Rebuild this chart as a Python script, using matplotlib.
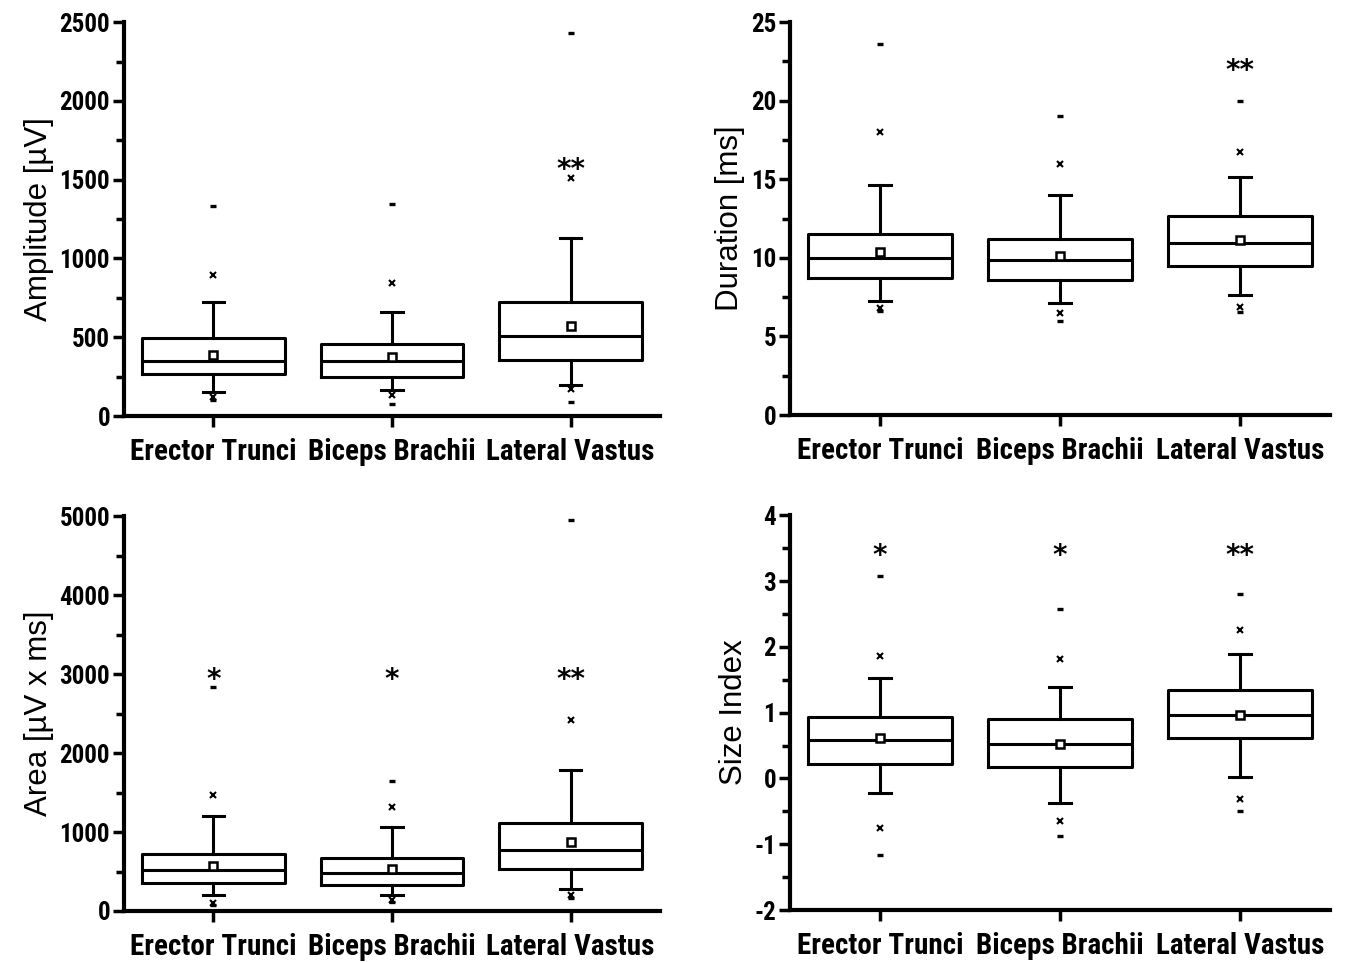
import matplotlib.pyplot as plt
from matplotlib import font_manager
from matplotlib.ticker import MultipleLocator

plt.rcParams['axes.unicode_minus'] = False

muscles = ['Erector Trunci', 'Biceps Brachii', 'Lateral Vastus']

# Amplitude [uV]
amp_q1 = [265, 250, 354]
amp_med = [349, 349, 511]
amp_q3 = [498, 455, 722]
amp_wlo = [155, 168, 199]
amp_whi = [722, 659, 1133]
amp_mean = [390, 375, 574]
amp_plo = [121, 136, 172]
amp_phi = [898, 847, 1508]
amp_min = [100, 74, 89]
amp_max = [1332, 1347, 2431]
amp_stars = ['', '', '**']

# Duration [ms]
dur_q1 = [8.74, 8.62, 9.47]
dur_med = [10.0, 9.87, 10.92]
dur_q3 = [11.5, 11.21, 12.65]
dur_wlo = [7.28, 7.1, 7.62]
dur_whi = [14.63, 14.0, 15.14]
dur_mean = [10.38, 10.1, 11.11]
dur_plo = [6.8, 6.49, 6.87]
dur_phi = [17.99, 16.0, 16.75]
dur_min = [6.6, 6.0, 6.53]
dur_max = [23.6, 19.0, 20.0]
dur_stars = ['', '', '**']

# Area [uV x ms]
area_q1 = [359, 326, 528]
area_med = [523, 478, 773]
area_q3 = [726, 676, 1119]
area_wlo = [203, 203, 279]
area_whi = [1200, 1065, 1787]
area_mean = [570, 532, 875]
area_plo = [97, 139, 199]
area_phi = [1474, 1322, 2417]
area_min = [80, 118, 165]
area_max = [2835, 1644, 4956]
area_stars = ['*', '*', '**']

# Size index
si_q1 = [0.22, 0.17, 0.61]
si_med = [0.58, 0.52, 0.97]
si_q3 = [0.94, 0.91, 1.34]
si_wlo = [-0.22, -0.37, 0.015]
si_whi = [1.53, 1.39, 1.89]
si_mean = [0.61, 0.52, 0.97]
si_plo = [-0.76, -0.64, -0.32]
si_phi = [1.86, 1.81, 2.26]
si_min = [-1.17, -0.87, -0.49]
si_max = [3.08, 2.58, 2.81]
si_stars = ['*', '*', '**']


# pick a narrow face that has a bold weight
def _w(f):
    w = f.weight
    if isinstance(w, str):
        w = font_manager.weight_dict.get(w, 400)
    return w


bold_faces = {f.name for f in font_manager.fontManager.ttflist
              if ('Narrow' in f.name or 'Condensed' in f.name)
              and 'Semi' not in f.name and _w(f) >= 700 and f.style == 'normal'}
prefer = ['Liberation Sans Narrow', 'Archivo Narrow', 'Roboto Condensed',
          'Barlow Condensed', 'Asap Condensed', 'Open Sans Condensed']
pick = [n for n in prefer if n in bold_faces] + sorted(bold_faces)
if pick:
    BOLD_NARROW = [pick[0], 'Liberation Sans', 'DejaVu Sans']
    XT_SIZE, YT_SIZE = 21, 18
else:
    BOLD_NARROW = ['Liberation Sans', 'DejaVu Sans']
    XT_SIZE, YT_SIZE = 16.5, 16
REGULAR = ['Liberation Sans', 'DejaVu Sans']


def draw_panel(ax, q1, med, q3, wlo, whi, mean, plo, phi, vmin, vmax,
               stars, star_y, ylabel, ylim, major, minor):
    pos = [1, 2, 3]
    stats = []
    for i in range(3):
        stats.append({'med': med[i], 'q1': q1[i], 'q3': q3[i],
                      'whislo': wlo[i], 'whishi': whi[i],
                      'mean': mean[i], 'fliers': []})
    lw = 2.2
    ax.bxp(stats, positions=pos, widths=0.8, showmeans=True, capwidths=0.12,
           boxprops=dict(color='black', linewidth=lw),
           medianprops=dict(color='black', linewidth=lw),
           whiskerprops=dict(color='black', linewidth=lw),
           capprops=dict(color='black', linewidth=lw),
           meanprops=dict(marker='s', markerfacecolor='white',
                          markeredgecolor='black', markersize=6,
                          markeredgewidth=1.8))
    ax.plot(pos, plo, 'x', color='black', markersize=4.5, mew=1.5)
    ax.plot(pos, phi, 'x', color='black', markersize=4.5, mew=1.5)
    ax.plot(pos, vmin, '_', color='black', markersize=5, mew=2.4)
    ax.plot(pos, vmax, '_', color='black', markersize=5, mew=2.4)
    for p, s in zip(pos, stars):
        if s:
            ax.text(p, star_y, s, ha='center', va='center', fontsize=20,
                    fontweight='bold', family=['DejaVu Sans'])

    ax.set_xlim(0.5, 3.5)
    ax.set_ylim(*ylim)
    ax.set_xticks(pos)
    ax.set_xticklabels(muscles)
    ax.yaxis.set_major_locator(MultipleLocator(major))
    ax.yaxis.set_minor_locator(MultipleLocator(minor))
    for lab in ax.get_xticklabels():
        lab.set_family(BOLD_NARROW)
        lab.set_fontweight('bold')
        lab.set_fontsize(XT_SIZE)
    for lab in ax.get_yticklabels():
        lab.set_family(BOLD_NARROW)
        lab.set_fontweight('bold')
        lab.set_fontsize(YT_SIZE)
    ax.set_ylabel(ylabel, family=REGULAR, fontsize=22.5, labelpad=4)
    ax.spines['top'].set_visible(False)
    ax.spines['right'].set_visible(False)
    ax.spines['left'].set_linewidth(3)
    ax.spines['bottom'].set_linewidth(3)
    ax.tick_params(axis='y', which='major', length=8, width=2.5, pad=2)
    ax.tick_params(axis='y', which='minor', length=6, width=2.5)
    ax.tick_params(axis='x', which='major', length=8, width=2.5, pad=8)


fig = plt.figure(figsize=(13.45, 9.63), dpi=100)
ax1 = fig.add_axes([0.0922, 0.568, 0.3985, 0.409])
ax2 = fig.add_axes([0.5874, 0.569, 0.4015, 0.408])
ax3 = fig.add_axes([0.0922, 0.054, 0.3985, 0.410])
ax4 = fig.add_axes([0.5874, 0.055, 0.4015, 0.410])

draw_panel(ax1, amp_q1, amp_med, amp_q3, amp_wlo, amp_whi, amp_mean,
           amp_plo, amp_phi, amp_min, amp_max, amp_stars, 1560,
           'Amplitude [\u00b5V]', (0, 2500), 500, 250)
draw_panel(ax2, dur_q1, dur_med, dur_q3, dur_wlo, dur_whi, dur_mean,
           dur_plo, dur_phi, dur_min, dur_max, dur_stars, 21.9,
           'Duration [ms]', (0, 25), 5, 2.5)
draw_panel(ax3, area_q1, area_med, area_q3, area_wlo, area_whi, area_mean,
           area_plo, area_phi, area_min, area_max, area_stars, 2928,
           'Area [\u00b5V x ms]', (0, 5000), 1000, 500)
draw_panel(ax4, si_q1, si_med, si_q3, si_wlo, si_whi, si_mean,
           si_plo, si_phi, si_min, si_max, si_stars, 3.38,
           'Size Index', (-2, 4), 1, 0.5)

fig.savefig('out.png', dpi=100)
